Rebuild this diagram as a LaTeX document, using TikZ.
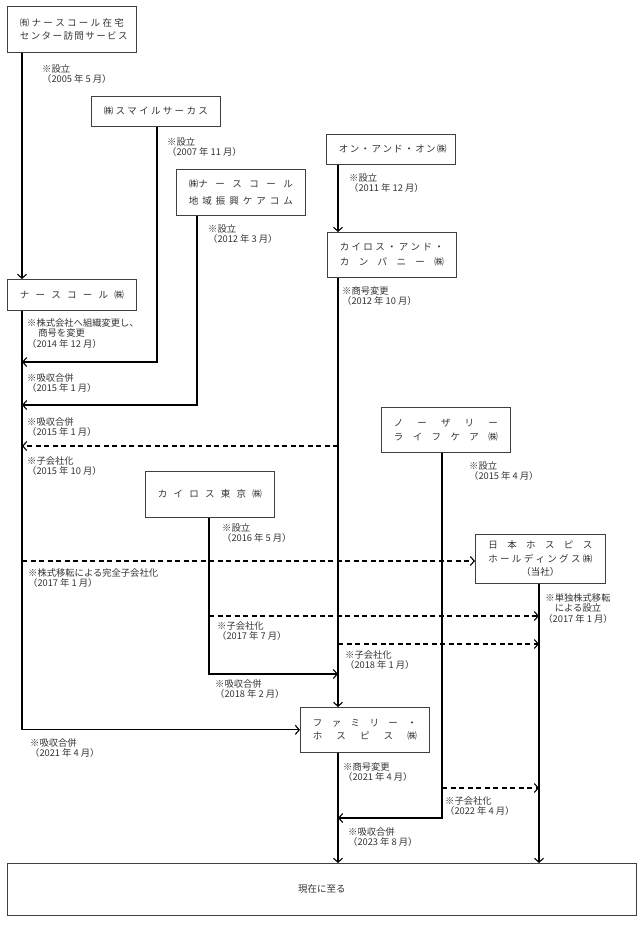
\documentclass[tikz,border=0pt]{standalone}
\usepackage{fontspec}
\setmainfont{Noto Sans CJK JP}
\usetikzlibrary{arrows.meta, positioning, calc}

\newcommand{\spr}[1]{\makebox[104pt][s]{#1}}

\begin{document}
\begin{tikzpicture}[x=1pt, y=-1pt,
	firm/.style={draw=black!75, line width=0.7pt, anchor=north west, minimum width=129pt, minimum height=46pt, inner sep=0pt, align=center, text=black!80, font=\fontsize{9.5}{13.5}\selectfont},
	note/.style={anchor=north west, inner sep=0pt, align=left, text=black!80, font=\fontsize{9.3}{10.5}\selectfont},
	flow/.style={line width=1.1pt, -{Straight Barb[length=4pt, width=9pt, line width=1.1pt]}},
	sub/.style={flow, dash pattern=on 5pt off 3.5pt}]
	\useasboundingbox (0,0) rectangle (644,925);
	
	% companies
	\node [firm] (n1) at (7,6) {\spr{㈲ ナ ー ス コ ー ル 在 宅}\\\spr{セ ン タ ー 訪 問 サ ー ビ ス}};
	\node [firm, minimum height=30pt] (n2) at (91,96) {\spr{㈱ ス マ イ ル サ ー カ ス}};
	\node [firm] (n3) at (176,169) {\spr{㈱ナ ー ス コ ー ル}\\[4pt]\spr{地 域 振 興 ケ ア コ ム}};
	\node [firm, minimum height=30pt] (n4) at (326,134) {\spr{オ ン ・ ア ン ド ・ オ ン ㈱}};
	\node [firm, minimum height=45pt] (n5) at (327,232) {\spr{カ イ ロ ス ・ ア ン ド ・}\\[1.5pt]\spr{カ ン パ ニ ー ㈱}};
	\node [firm, minimum height=31pt] (n6) at (7,279) {\spr{ナ ー ス コ ー ル ㈱}};
	\node [firm, minimum height=45pt] (n7) at (381,407) {\spr{ノ ー ザ リ ー}\\\spr{ラ イ フ ケ ア ㈱}};
	\node [firm] (n8) at (145,471) {\spr{カ イ ロ ス 東 京 ㈱}};
	\node [firm, minimum height=49pt, minimum width=130pt] (n9) at (475,534) {\spr{日 本 ホ ス ピ ス}\\\spr{ホ ー ル デ ィ ン グ ス ㈱}\\（当社）};
	\node [firm, minimum height=45pt] (n10) at (300,707) {\spr{フ ァ ミ リ ー ・}\\\spr{ホ ス ピ ス ㈱}};
	\node [firm, minimum height=52pt, minimum width=629pt] (n11) at (7,863) {現在に至る};
	
	% lanes
	\coordinate (la) at (22,0);
	\coordinate (lb) at (157,0);
	\coordinate (lc) at (197,0);
	\coordinate (lf) at (209,0);
	\coordinate (ld) at (338,0);
	\coordinate (le) at (442,0);
	\coordinate (lg) at (539,0);
	
	% joins
	\coordinate (m1) at (22,362);
	\coordinate (m2) at (22,405);
	\coordinate (s1) at (338,446);
	\coordinate (s2) at (22,561);
	\coordinate (m3) at (338,674);
	\coordinate (s3) at (209,616);
	\coordinate (s4) at (338,644);
	\coordinate (m4) at (338,818);
	\coordinate (s5) at (442,788);
	
	\draw [flow] (n1.south -| la) -- (n6.north -| la);
	\draw [flow] (n2.south -| lb) |- (m1);
	\draw [flow] (n3.south -| lc) |- (m2);
	\draw [flow] (n4.south -| ld) -- (n5.north -| ld);
	\draw [flow] (n6.south -| la) |- (n10.west);
	\draw [flow] (n5.south -| ld) -- (n10.north -| ld);
	\draw [flow] (n8.south -| lf) |- (m3);
	\draw [flow] (n7.south -| le) |- (m4);
	\draw [flow] (n10.south -| ld) -- (n11.north -| ld);
	\draw [flow] (n9.south -| lg) -- (n11.north -| lg);
	
	\draw [sub] (s1) -- (s1 -| la);
	\draw [sub] (s2) -- (s2 -| n9.west);
	\draw [sub] (s3) -- (s3 -| lg);
	\draw [sub] (s4) -- (s4 -| lg);
	\draw [sub] (s5) -- (s5 -| lg);
	
	% notes
	\foreach \x/\y/\t in {42/64/{※設立\\（2005 年 5 月）},
		167/137/{※設立\\（2007 年 11 月）},
		208/224/{※設立\\（2012 年 3 月）},
		349/173/{※設立\\（2011 年 12 月）},
		342/286/{※商号変更\\（2012 年 10 月）},
		27/318/{※株式会社へ組織変更し、\\\hspace*{1.2em}商号を変更\\（2014 年 12 月）},
		27/373/{※吸収合併\\（2015 年 1 月）},
		27/417/{※吸収合併\\（2015 年 1 月）},
		27/456/{※子会社化\\（2015 年 10 月）},
		469/461/{※設立\\（2015 年 4 月）},
		222/523/{※設立\\（2016 年 5 月）},
		28/568/{※株式移転による完全子会社化\\（2017 年 1 月）},
		217/621/{※子会社化\\（2017 年 7 月）},
		345/650/{※子会社化\\（2018 年 1 月）},
		215/679/{※吸収合併\\（2018 年 2 月）},
		30/738/{※吸収合併\\（2021 年 4 月）},
		343/762/{※商号変更\\（2021 年 4 月）},
		445/796/{※子会社化\\（2022 年 4 月）},
		348/827/{※吸収合併\\（2023 年 8 月）}}
	\node [note] at (\x,\y) {\t};
	
	\node [note, anchor=north, align=center] (hd) at (578,593) {※単独株式移転\\による設立\\（2017 年 1 月）};
\end{tikzpicture}
\end{document}
